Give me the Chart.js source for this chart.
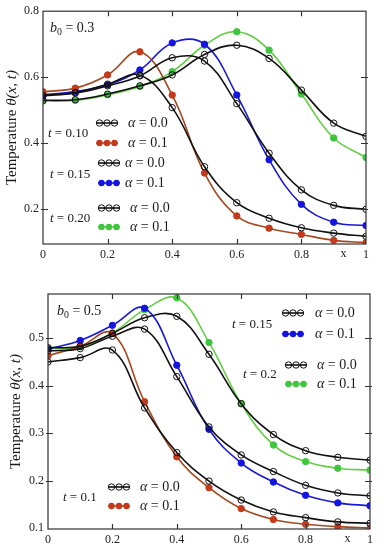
<!DOCTYPE html>
<html>
<head>
<meta charset="utf-8">
<script src="https://cdn.jsdelivr.net/npm/chart.js@4.4.0/dist/chart.umd.min.js"></script>
<style>
  html, body { margin: 0; padding: 0; background: #fff; }
  canvas { display: block; }
</style>
</head>
<body>
<canvas id="topChart" width="383" height="270"></canvas>
<canvas id="bottomChart" width="383" height="280"></canvas>
<script>
// ==== DATA ====
const xValues = [0, 0.1, 0.2, 0.3, 0.4, 0.5, 0.6, 0.7, 0.8, 0.9, 1];
const xTicks = [0, 0.2, 0.4, 0.6, 0.8, 1];

// b0 = 0.3
const topYTicks = [0.2, 0.4, 0.6, 0.8];
const top_t010_a00 = [0.545, 0.554, 0.579, 0.606, 0.508, 0.329, 0.220, 0.173, 0.144, 0.128, 0.118];
const top_t010_a01 = [0.556, 0.567, 0.607, 0.677, 0.546, 0.310, 0.180, 0.143, 0.124, 0.106, 0.099];
const top_t015_a00 = [0.544, 0.552, 0.574, 0.604, 0.659, 0.649, 0.520, 0.370, 0.259, 0.212, 0.200];
const top_t015_a01 = [0.547, 0.557, 0.577, 0.622, 0.704, 0.700, 0.546, 0.350, 0.215, 0.161, 0.151];
const top_t020_a00 = [0.530, 0.532, 0.549, 0.574, 0.607, 0.669, 0.697, 0.657, 0.561, 0.461, 0.421];
const top_t020_a01 = [0.528, 0.530, 0.547, 0.572, 0.617, 0.697, 0.738, 0.682, 0.549, 0.416, 0.357];

// b0 = 0.5
const botYTicks = [0.1, 0.2, 0.3, 0.4, 0.5];
const bot_t01_a00 = [0.450, 0.459, 0.475, 0.353, 0.259, 0.199, 0.159, 0.134, 0.122, 0.113, 0.110];
const bot_t01_a01 = [0.463, 0.483, 0.510, 0.366, 0.250, 0.185, 0.141, 0.118, 0.108, 0.103, 0.100];
const bot_t015_a00 = [0.473, 0.478, 0.504, 0.519, 0.419, 0.313, 0.254, 0.219, 0.190, 0.174, 0.168];
const bot_t015_a01 = [0.477, 0.495, 0.527, 0.563, 0.443, 0.308, 0.237, 0.197, 0.169, 0.153, 0.147];
const bot_t02_a00 = [0.480, 0.483, 0.510, 0.543, 0.546, 0.466, 0.362, 0.297, 0.263, 0.249, 0.243];
const bot_t02_a01 = [0.478, 0.482, 0.511, 0.560, 0.585, 0.491, 0.362, 0.275, 0.240, 0.226, 0.222];

// ==== STYLE ====
const SERIF = "'Liberation Serif', 'Times New Roman', serif";
const BLACK = "#111";
const RED = { line: "#a4481f", dot: "#c63a1c" };
const BLUE = { line: "#1818d8", dot: "#1414e0" };
const GREEN = { line: "#62cf43", dot: "#3fc53f" };

function series(values, col, open) {
  return {
    data: xValues.map((x, i) => ({ x, y: values[i] })),
    borderColor: open ? BLACK : col.line,
    borderWidth: 1.6,
    pointRadius: 3.2,
    pointHoverRadius: 3.2,
    pointBorderWidth: 1,
    pointBorderColor: open ? BLACK : col.dot,
    pointBackgroundColor: open ? "rgba(0,0,0,0)" : col.dot,
    tension: 0.4,
    fill: false
  };
}

// ==== TEXT HELPERS ====
function drawRich(ctx, parts, x, y, size) {
  // parts: [text, italic, sub]
  ctx.textBaseline = "middle";
  ctx.textAlign = "left";
  let cx = x;
  parts.forEach(([text, italic, sub]) => {
    const s = sub ? size * 0.7 : size;
    ctx.font = (italic ? "italic " : "") + s + "px " + SERIF;
    ctx.fillText(text, cx, sub ? y + size * 0.3 : y);
    cx += ctx.measureText(text).width;
  });
  return cx - x;
}

function richWidth(ctx, parts, size) {
  let w = 0;
  parts.forEach(([text, italic, sub]) => {
    const s = sub ? size * 0.7 : size;
    ctx.font = (italic ? "italic " : "") + s + "px " + SERIF;
    w += ctx.measureText(text).width;
  });
  return w;
}

function drawSymbol(ctx, cx, cy, col, open) {
  ctx.save();
  ctx.strokeStyle = open ? BLACK : col.line;
  ctx.lineWidth = 1.6;
  ctx.beginPath();
  ctx.moveTo(cx - 11, cy);
  ctx.lineTo(cx + 11, cy);
  ctx.stroke();
  [-7.5, 0, 7.5].forEach(dx => {
    ctx.beginPath();
    ctx.arc(cx + dx, cy, 3.2, 0, Math.PI * 2);
    if (open) {
      ctx.lineWidth = 1;
      ctx.strokeStyle = BLACK;
      ctx.stroke();
    } else {
      ctx.fillStyle = col.dot;
      ctx.fill();
    }
  });
  ctx.restore();
}

// ==== FRAME + ANNOTATIONS PLUGIN ====
const decorPlugin = {
  id: "decor",
  afterDatasetsDraw(chart, args, opts) {
    const ctx = chart.ctx;
    const a = chart.chartArea;
    const xs = chart.scales.x, ys = chart.scales.y;

    ctx.save();
    ctx.fillStyle = "#1a1a1a";
    // frame
    ctx.strokeStyle = "#333";
    ctx.lineWidth = 1.2;
    ctx.strokeRect(a.left, a.top, a.right - a.left, a.bottom - a.top);
    ctx.beginPath();
    xTicks.forEach(v => {
      if (v <= 0 || v >= 1) return;
      const px = Math.round(xs.getPixelForValue(v)) + 0.5;
      ctx.moveTo(px, a.bottom); ctx.lineTo(px, a.bottom - 5);
      ctx.moveTo(px, a.top); ctx.lineTo(px, a.top + 5);
    });
    opts.yTicks.forEach(v => {
      const py = Math.round(ys.getPixelForValue(v)) + 0.5;
      if (py <= a.top + 1 || py >= a.bottom - 1) return;
      ctx.moveTo(a.left - 2, py); ctx.lineTo(a.left + 5, py);
      ctx.moveTo(a.right + 2, py); ctx.lineTo(a.right - 5, py);
    });
    ctx.stroke();

    // "x" label on the tick row
    ctx.font = "12px " + SERIF;
    ctx.textAlign = "center";
    ctx.textBaseline = "top";
    ctx.fillText("x", xs.getPixelForValue(0.93), a.bottom + 4);

    // y axis title, rotated
    const title = [["Temperature ", false], ["\u03b8(x, t)", true]];
    const tw = richWidth(ctx, title, 15);
    ctx.save();
    ctx.translate(opts.titleX, (a.top + a.bottom) / 2);
    ctx.rotate(-Math.PI / 2);
    drawRich(ctx, title, -tw / 2, 0, 15);
    ctx.restore();

    // b0 label
    drawRich(ctx, [["b", true], ["0", false, true], [" = " + opts.b0, false]], opts.b0Pos[0], opts.b0Pos[1], 14);

    // legend groups
    opts.groups.forEach(g => {
      drawRich(ctx, [["t", true], [" = " + g.t, false]], g.tPos[0], g.tPos[1], 13);
      g.rows.forEach(r => {
        drawSymbol(ctx, r.sym[0], r.sym[1], r.col, r.open);
        drawRich(ctx, [["\u03b1", true], [" = " + r.alpha, false]], r.textX, r.sym[1], 14);
      });
    });
    ctx.restore();
  }
};

// ==== CHART BUILDER ====
function makeChart(id, datasets, yMin, yMax, yTicks, yWidth, xHeight, padding, decor) {
  return new Chart(document.getElementById(id), {
    type: "line",
    data: { datasets },
    plugins: [decorPlugin],
    options: {
      responsive: false,
      animation: false,
      layout: { padding },
      plugins: { legend: { display: false }, tooltip: { enabled: false }, decor },
      scales: {
        x: {
          type: "linear", min: 0, max: 1,
          afterBuildTicks: s => { s.ticks = xTicks.map(v => ({ value: v })); },
          afterFit: s => { s.height = xHeight; },
          grid: { display: false, drawTicks: false }, border: { display: false },
          ticks: { font: { family: SERIF, size: 12 }, color: "#222", padding: 4, maxRotation: 0,
                   callback: v => String(+v.toFixed(1)) }
        },
        y: {
          type: "linear", min: yMin, max: yMax,
          afterBuildTicks: s => { s.ticks = yTicks.map(v => ({ value: v })); },
          afterFit: s => { s.width = yWidth; },
          grid: { display: false, drawTicks: false }, border: { display: false },
          ticks: { font: { family: SERIF, size: 12 }, color: "#222", padding: 4,
                   callback: v => String(+v.toFixed(1)) }
        }
      }
    }
  });
}

// ==== TOP PANEL (b0 = 0.3) ====
makeChart("topChart", [
  series(top_t010_a00, null, true),
  series(top_t015_a00, null, true),
  series(top_t020_a00, null, true),
  series(top_t010_a01, RED, false),
  series(top_t015_a01, BLUE, false),
  series(top_t020_a01, GREEN, false)
], 0.095, 0.8, topYTicks, 43, 26, { top: 10, right: 17, left: 0, bottom: 0 }, {
  yTicks: topYTicks,
  titleX: 12,
  b0: "0.3", b0Pos: [50, 28],
  groups: [
    { t: "0.10", tPos: [48, 134], rows: [
      { sym: [107, 123], col: null, open: true, alpha: "0.0", textX: 128 },
      { sym: [107, 143], col: RED, open: false, alpha: "0.1", textX: 128 }] },
    { t: "0.15", tPos: [50, 175], rows: [
      { sym: [109, 163], col: null, open: true, alpha: "0.0", textX: 125 },
      { sym: [109, 183], col: BLUE, open: false, alpha: "0.1", textX: 125 }] },
    { t: "0.20", tPos: [50, 219], rows: [
      { sym: [109, 208], col: null, open: true, alpha: "0.0", textX: 130 },
      { sym: [109, 227], col: GREEN, open: false, alpha: "0.1", textX: 130 }] }
  ]
});

// ==== BOTTOM PANEL (b0 = 0.5) ====
makeChart("bottomChart", [
  series(bot_t01_a00, null, true),
  series(bot_t015_a00, null, true),
  series(bot_t02_a00, null, true),
  series(bot_t01_a01, RED, false),
  series(bot_t015_a01, BLUE, false),
  series(bot_t02_a01, GREEN, false)
], 0.098, 0.593, botYTicks, 48, 21, { top: 24, right: 13, left: 0, bottom: 0 }, {
  yTicks: botYTicks,
  titleX: 16,
  b0: "0.5", b0Pos: [57, 41],
  groups: [
    { t: "0.15", tPos: [232, 55], rows: [
      { sym: [293, 43], col: null, open: true, alpha: "0.0", textX: 315 },
      { sym: [293, 64], col: BLUE, open: false, alpha: "0.1", textX: 315 }] },
    { t: "0.2", tPos: [243, 105], rows: [
      { sym: [296, 95], col: null, open: true, alpha: "0.0", textX: 317 },
      { sym: [296, 114], col: GREEN, open: false, alpha: "0.1", textX: 317 }] },
    { t: "0.1", tPos: [63, 228], rows: [
      { sym: [119, 217], col: null, open: true, alpha: "0.0", textX: 140 },
      { sym: [119, 236], col: RED, open: false, alpha: "0.1", textX: 140 }] }
  ]
});
</script>
</body>
</html>
